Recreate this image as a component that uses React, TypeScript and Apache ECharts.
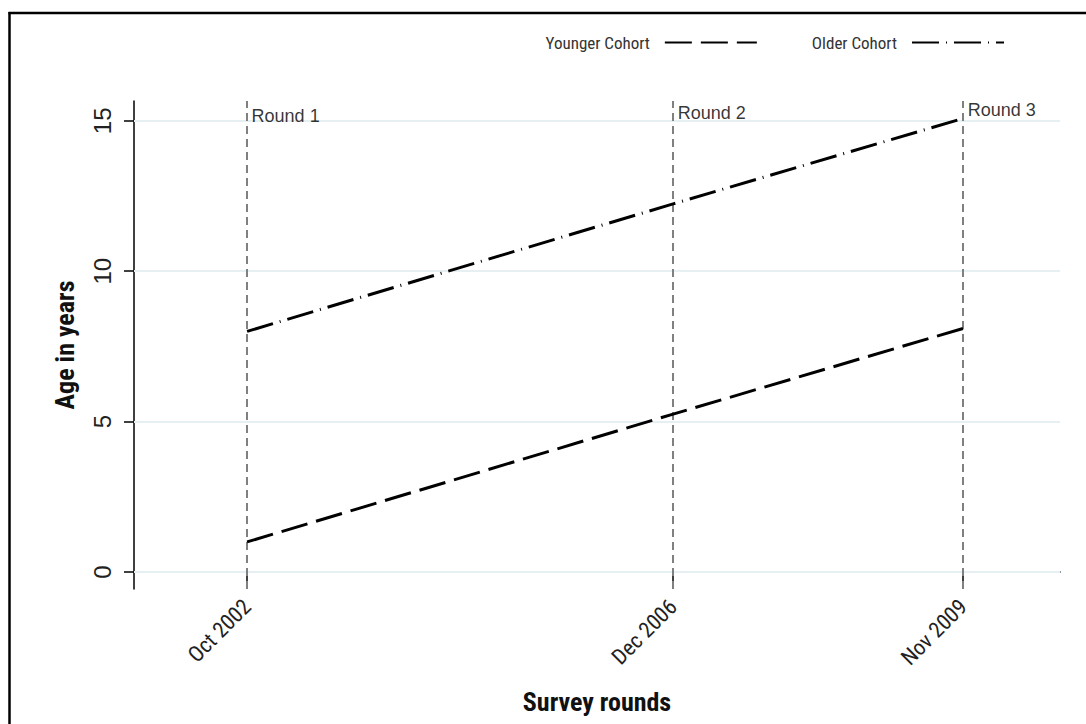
import React, { useEffect, useRef } from "react";
import * as echarts from "echarts";

const roundDates = ["2002-10-31", "2006-12-31", "2009-11-01"];
const roundTickLabels = ["Oct 2002", "Dec 2006", "Nov 2009"];
const roundNames = ["Round 1", "Round 2", "Round 3"];
const roundLabelAges = [15.16, 15.26, 15.36];
const youngerAges = [1.0, 5.25, 8.1];
const olderAges = [8.0, 12.24, 15.08];
const yTicks = [0, 5, 10, 15];
const xAxisRange = ["2001-09-22", "2010-10-13"];
const yAxisRange = [-0.565, 15.66];

const NARROW = "'Liberation Sans Narrow', 'Arial Narrow', 'Roboto Condensed', sans-serif";
const ARIAL = "'Liberation Sans', Arial, sans-serif";

const ts = (d: string) => Date.parse(d + "T00:00:00Z");

export default function App() {
  const ref = useRef<HTMLDivElement>(null);
  useEffect(() => {
    if (!ref.current) return;
    const chart = echarts.init(ref.current, undefined, { renderer: "svg" });
    const xs = roundDates.map(ts);
    const option: any = {
      animation: false,
      backgroundColor: "#ffffff",
      grid: { left: 134, right: 26, top: 101, bottom: 135 },
      legend: {
        data: ["Younger Cohort", "Older Cohort"],
        right: 76,
        top: 29,
        align: "right",
        itemWidth: 92,
        itemHeight: 14,
        itemGap: 54,
        itemStyle: { color: "rgba(0,0,0,0)", borderColor: "rgba(0,0,0,0)", borderWidth: 0 },
        textStyle: { fontFamily: NARROW, fontSize: 17, color: "#333", padding: [0, 10, 0, 0] },
        selectedMode: false,
      },
      xAxis: {
        type: "value",
        min: ts(xAxisRange[0]),
        max: ts(xAxisRange[1]),
        name: "Survey rounds",
        nameLocation: "middle",
        nameGap: 100,
        nameTextStyle: { fontFamily: NARROW, fontSize: 26, fontWeight: "bold", color: "#111" },
        axisLine: { show: true, lineStyle: { color: "#000", width: 1.5 } },
        axisTick: { show: true, customValues: xs, length: 11, lineStyle: { color: "#000", width: 1.5 } },
        axisLabel: {
          customValues: xs,
          rotate: 45,
          margin: 14,
          fontFamily: NARROW,
          fontSize: 22,
          color: "#222",
          formatter: (v: number) => {
            const i = xs.indexOf(v);
            return i >= 0 ? roundTickLabels[i] : "";
          },
        },
        splitLine: { show: false },
      },
      yAxis: {
        type: "value",
        min: yAxisRange[0],
        max: yAxisRange[1],
        name: "Age in years",
        nameLocation: "middle",
        nameGap: 56,
        nameMoveOverlap: false,
        nameTextStyle: { fontFamily: NARROW, fontSize: 26, fontWeight: "bold", color: "#111" },
        axisLine: { show: true, lineStyle: { color: "#000", width: 1.5 } },
        axisTick: { show: true, customValues: yTicks, length: 10, lineStyle: { color: "#000", width: 1.5 } },
        axisLabel: {
          customValues: yTicks,
          rotate: 90,
          margin: 20,
          fontFamily: ARIAL,
          fontSize: 24,
          color: "#222",
        },
        splitLine: { show: false },
      },
      series: [
        {
          name: "gridlines",
          type: "line",
          data: [],
          z: 1,
          markLine: {
            z: 1,
            silent: true,
            symbol: ["none", "none"],
            label: { show: false },
            lineStyle: { color: "#e6f0f2", width: 2, type: "solid" },
            data: yTicks.map((v) => ({ yAxis: v })),
          },
        },
        {
          name: "rounds",
          type: "scatter",
          z: 6,
          symbolSize: 1,
          itemStyle: { color: "rgba(0,0,0,0)" },
          data: xs.map((x, i) => [x, roundLabelAges[i]]),
          label: {
            show: true,
            position: "right",
            distance: 4,
            fontFamily: ARIAL,
            fontSize: 18,
            color: "#000",
            formatter: (p: any) => roundNames[p.dataIndex],
          },
          markLine: {
            z: 2,
            silent: true,
            symbol: ["none", "none"],
            label: { show: false },
            lineStyle: { color: "#808080", width: 2, type: [8, 5] },
            data: xs.map((x) => ({ xAxis: x })),
          },
        },
        {
          name: "Younger Cohort",
          type: "line",
          z: 3,
          symbol: "none",
          data: xs.map((x, i) => [x, youngerAges[i]]),
          lineStyle: { color: "#000", width: 3, type: [27, 9] },
          itemStyle: { color: "#000" },
        },
        {
          name: "Older Cohort",
          type: "line",
          z: 3,
          symbol: "none",
          data: xs.map((x, i) => [x, olderAges[i]]),
          lineStyle: { color: "#000", width: 3, type: [27, 7, 1, 7] },
          itemStyle: { color: "#000" },
        },
      ],
      graphic: [
        {
          type: "line",
          silent: true,
          shape: { x1: 9.5, y1: 12, x2: 9.5, y2: 724 },
          style: { stroke: "#000", lineWidth: 2.5 },
        },
        {
          type: "line",
          silent: true,
          shape: { x1: 8.5, y1: 13, x2: 1086, y2: 13 },
          style: { stroke: "#000", lineWidth: 2.5 },
        },
      ],
    };
    chart.setOption(option);
    return () => chart.dispose();
  }, []);
  return (
    <div
      ref={ref}
      style={{ position: "fixed", left: 0, top: 0, width: 1086, height: 724 }}
    />
  );
}
